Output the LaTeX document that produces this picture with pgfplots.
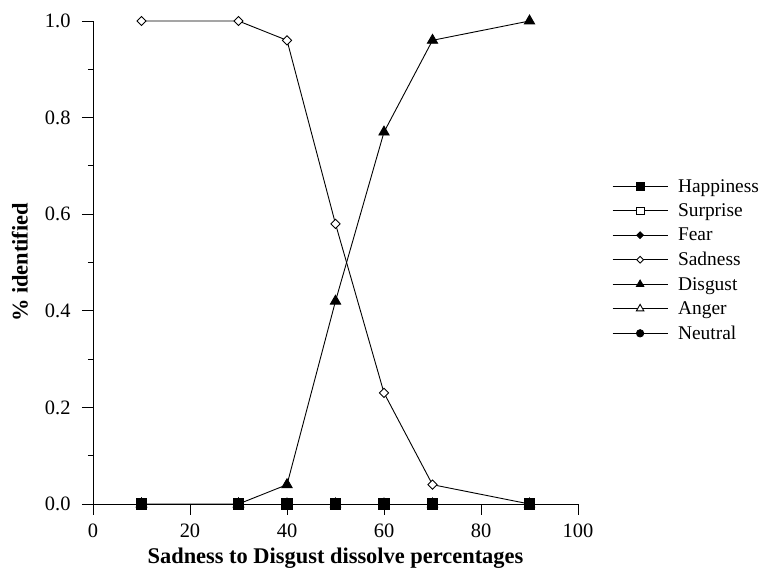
\documentclass[border=0pt]{standalone}
\usepackage{fontspec}
\setmainfont{Liberation Serif}
\usepackage{pgfplots}
\pgfplotsset{compat=1.18}

\begin{document}
\begin{tikzpicture}
\begin{axis}[
  scale only axis,
  width=485bp, height=483bp,
  xmin=0, xmax=100, ymin=0, ymax=1,
  axis x line=bottom, axis y line=left,
  axis line style={-, line width=0.9bp},
  xtick={0,20,40,60,80,100},
  ytick={0,0.2,0.4,0.6,0.8,1.0},
  minor ytick={0.1,0.3,0.5,0.7,0.9},
  tick align=outside,
  major tick length=11bp, minor tick length=5bp,
  every tick/.style={black, line width=0.9bp},
  /pgf/number format/assume math mode=true,
  tick label style={font=\fontsize{20.5}{23}\selectfont},
  yticklabel style={xshift=-8bp, /pgf/number format/.cd, fixed, fixed zerofill, precision=1},
  xticklabel style={yshift=-5bp},
  xlabel={\textbf{Sadness to Disgust dissolve percentages}},
  ylabel={\textbf{\% identified}},
  xlabel style={font=\fontsize{22.5}{25}\selectfont,
    at={(axis description cs:0.5,0)}, anchor=center, yshift=-54bp},
  ylabel style={font=\fontsize{22.5}{25}\selectfont,
    at={(axis description cs:0,0.5)}, anchor=center, yshift=73bp},
  legend cell align=left,
  legend style={draw=none, fill=none, at={(1.07,0.505)}, anchor=west,
    font=\fontsize{19.5}{22}\selectfont, row sep=6bp, inner sep=0pt,
    /tikz/every odd column/.append style={column sep=8bp}},
  legend image code/.code={
    \draw[mark repeat=2, mark phase=2, every mark/.append style={scale=0.73}, #1]
      plot coordinates {(0bp,0bp) (27.5bp,0bp) (55bp,0bp)};},
  every axis plot/.append style={black, line width=0.9bp},
  clip=false,
]
\addplot[mark=square*, mark size=5.3bp, mark options={fill=black}] coordinates
  {(10,0) (30,0) (40,0) (50,0) (60,0) (70,0) (90,0)};
\addlegendentry{Happiness}
\addplot[mark=square*, mark size=5.3bp, mark options={fill=white}] coordinates
  {(10,0) (30,0) (40,0) (50,0) (60,0) (70,0) (90,0)};
\addlegendentry{Surprise}
\addplot[mark=diamond*, mark size=4.6bp, mark options={fill=black, xscale=1.33}] coordinates
  {(10,0) (30,0) (40,0) (50,0) (60,0) (70,0) (90,0)};
\addlegendentry{Fear}
\addplot[mark=diamond*, mark size=4.6bp, mark options={fill=white, xscale=1.33}] coordinates
  {(10,1.0) (30,1.0) (40,0.96) (50,0.58) (60,0.23) (70,0.04) (90,0)};
\addlegendentry{Sadness}
\addplot[mark=triangle*, mark size=5.9bp, mark options={fill=black}] coordinates
  {(10,0) (30,0) (40,0.04) (50,0.42) (60,0.77) (70,0.96) (90,1.0)};
\addlegendentry{Disgust}
\addplot[mark=triangle*, mark size=5.9bp, mark options={fill=white}] coordinates
  {(10,0) (30,0) (40,0) (50,0) (60,0) (70,0) (90,0)};
\addlegendentry{Anger}
\addplot[mark=*, mark size=5bp, mark options={fill=black}] coordinates
  {(10,0) (30,0) (40,0) (50,0) (60,0) (70,0) (90,0)};
\addlegendentry{Neutral}
% happiness markers on top of the overlapping zero rows
\addplot[forget plot, mark=square*, mark size=5.3bp, mark options={fill=black}] coordinates
  {(10,0) (30,0) (40,0) (50,0) (60,0) (70,0) (90,0)};
\coordinate (ll) at (rel axis cs:0,0);
\coordinate (ur) at (rel axis cs:1,1);
\end{axis}
\pgfresetboundingbox
\path[use as bounding box] ([shift={(-93bp,-72bp)}]ll) rectangle ([shift={(183bp,21bp)}]ur);
\end{tikzpicture}
\end{document}
